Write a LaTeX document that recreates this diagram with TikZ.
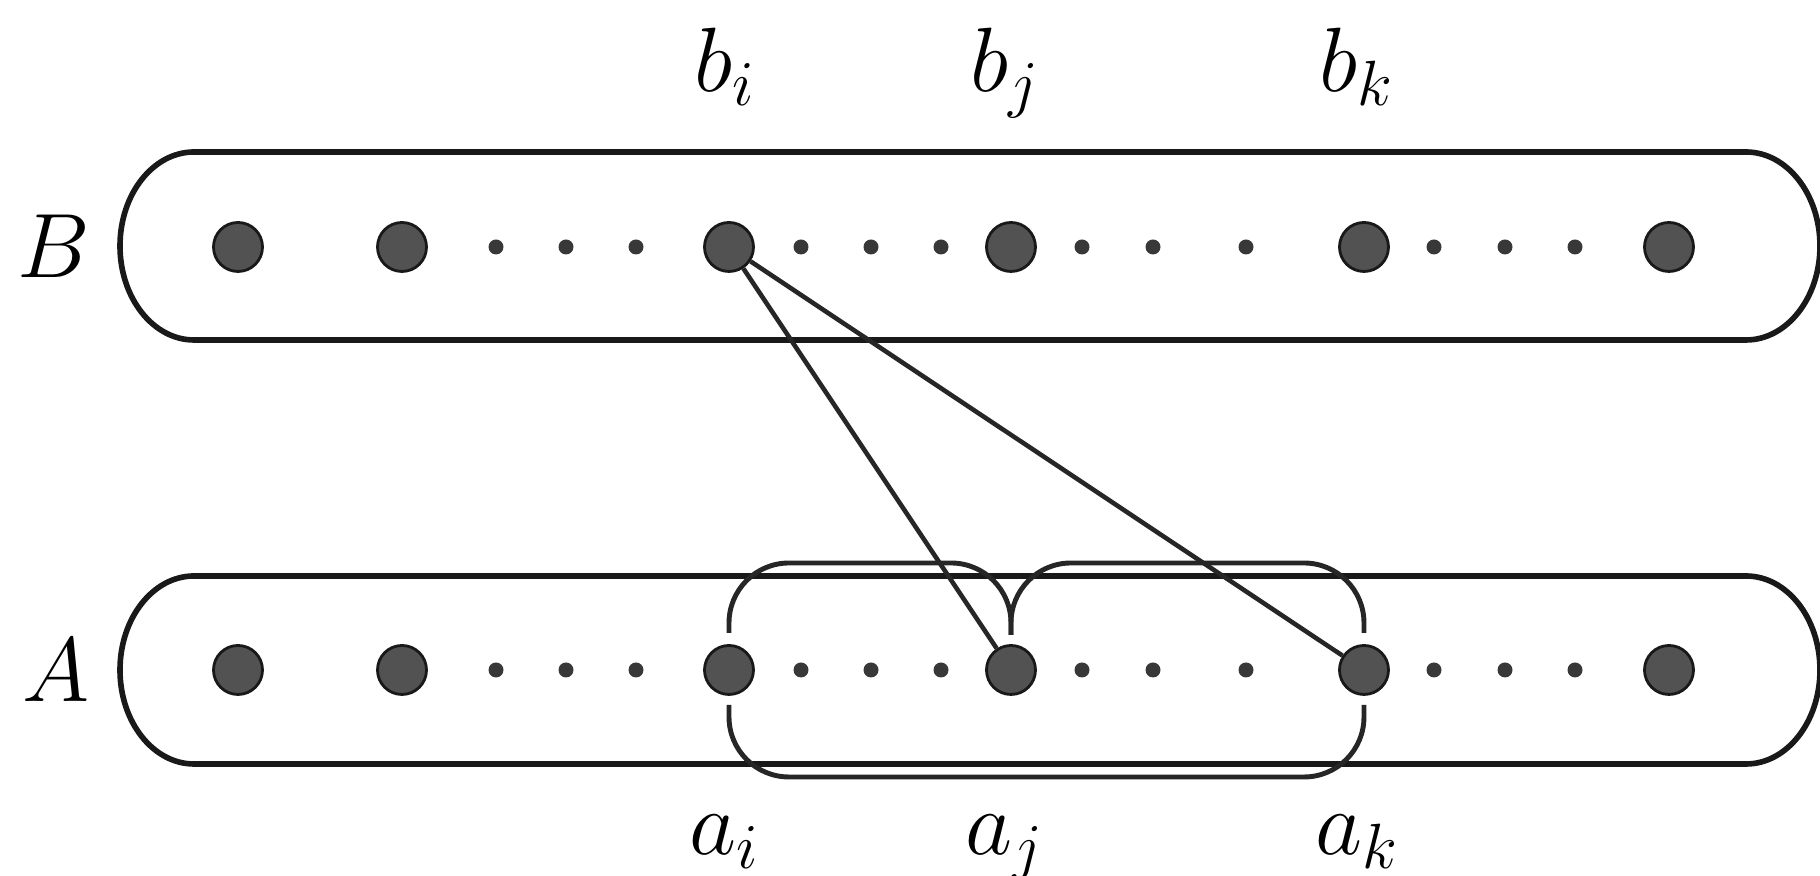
\RequirePackage{fix-cm}
\documentclass[tikz,border=0pt]{standalone}
\usetikzlibrary{calc}

\tikzset{
  bigdot/.style={circle,fill=black!68,draw=black!90,line width=0.8pt,minimum size=0.49cm,inner sep=0pt},
  smalldot/.style={circle,fill=black!78,minimum size=0.15cm,inner sep=0pt},
  band/.style={line width=1.6pt,black!90},
  hull/.style={line width=1.4pt,black!85,rounded corners=0.6cm},
  link/.style={line width=1.3pt,black!85},
  lbl/.style={font=\fontsize{26}{30}\selectfont,anchor=base,inner sep=0pt}
}

\begin{document}
\begin{tikzpicture}
\useasboundingbox (0,0) rectangle (18.2,-8.76);
% the two bands
\draw[band] (1.94,-1.52) -- (17.46,-1.52) arc[start angle=90,end angle=-90,x radius=0.74,y radius=0.94]
  -- (1.94,-3.40) arc[start angle=270,end angle=90,x radius=0.74,y radius=0.94] -- cycle;
\draw[band] (1.94,-5.76) -- (17.46,-5.76) arc[start angle=90,end angle=-90,x radius=0.74,y radius=0.94]
  -- (1.94,-7.64) arc[start angle=270,end angle=90,x radius=0.74,y radius=0.94] -- cycle;
\node[lbl] (labB) at (0.54,-2.78) {$B$};
\node[lbl] (labA) at (0.56,-7.02) {$A$};
% big points of both rows
\foreach \x/\n in {2.38/1,4.02/2,7.29/i,10.11/j,13.64/k,16.69/6} {
  \node[bigdot] (b\n) at (\x,-2.47) {};
  \node[bigdot] (a\n) at (\x,-6.70) {};
}
% small points
\foreach \x [count=\c] in {4.96,5.66,6.36,8.01,8.71,9.41,10.82,11.53,12.46,14.34,15.05,15.75} {
  \node[smalldot] (bs\c) at (\x,-2.47) {};
  \node[smalldot] (as\c) at (\x,-6.70) {};
}
% labels
\node[lbl] (labbi) at (7.25,-0.92) {$b_i$};
\node[lbl] (labbj) at (10.05,-0.92) {$b_j$};
\node[lbl] (labbk) at (13.57,-0.92) {$b_k$};
\node[lbl] (labai) at (7.25,-8.55) {$a_i$};
\node[lbl] (labaj) at (10.05,-8.55) {$a_j$};
\node[lbl] (labak) at (13.57,-8.55) {$a_k$};
% links from b_i
\draw[link] (bi) -- (aj);
\draw[link] (bi) -- (ak);
% hull round a_i .. a_k
\coordinate (hulltop) at (0,-5.63);
\coordinate (hullbot) at (0,-7.77);
\draw[hull] ([yshift=3.7mm]ai.center) -- (ai |- hulltop) -- (aj |- hulltop) -- ([yshift=3.5mm]aj.center);
\draw[hull] ([yshift=3.5mm]aj.center) -- (aj |- hulltop) -- (ak |- hulltop) -- ([yshift=3.7mm]ak.center);
\draw[hull] ([yshift=-3.5mm]ai.center) -- (ai |- hullbot) -- (ak |- hullbot) -- ([yshift=-3.5mm]ak.center);
\end{tikzpicture}
\end{document}
